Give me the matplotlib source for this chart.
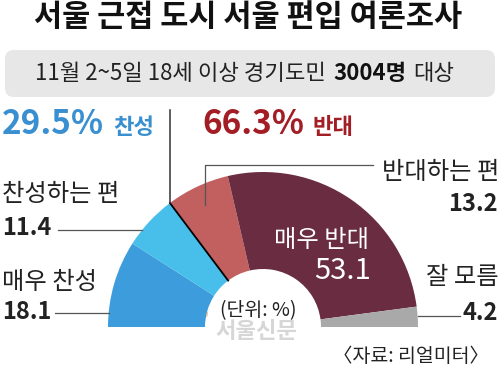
import matplotlib
matplotlib.use("Agg")
import matplotlib.pyplot as plt
from matplotlib.patches import FancyBboxPatch
import numpy as np

plt.rcParams["font.family"] = ["Noto Sans CJK KR", "DejaVu Sans"]

# ── data ────────────────────────────────────────────────────────────────────
categories = ["매우 찬성", "찬성하는 편", "반대하는 편", "매우 반대", "잘 모름"]
values = [18.1, 11.4, 13.2, 53.1, 4.2]
colors = ["#3d9cdb", "#48bfea", "#c1605f", "#6a2c41", "#a9a9a9"]
favor_total = 29.5
oppose_total = 66.3

W, H = 500, 369
def Y(y):  # top-down pixel -> data y
    return H - y

fig = plt.figure(figsize=(W / 100, H / 100), dpi=100)
ax = fig.add_axes([0, 0, 1, 1])
ax.set_xlim(0, W)
ax.set_ylim(0, H)
ax.axis("off")

# ── title / subtitle box ────────────────────────────────────────────────────
ax.text(248, Y(17), "서울 근접 도시 서울 편입 여론조사", ha="center", va="center",
        fontsize=22, fontweight="black", color="#111111")
ax.add_patch(FancyBboxPatch((5, Y(97)), 490, 47, boxstyle="round,pad=0,rounding_size=9",
                            facecolor="#e7e7e7", edgecolor="none"))
ax.text(326, Y(74), "11월 2~5일 18세 이상 경기도민", ha="right", va="center",
        fontsize=16, color="#222222")
ax.text(333, Y(74), "3004명", ha="left", va="center", fontsize=16,
        fontweight="bold", color="#111111")
ax.text(413, Y(74), "대상", ha="left", va="center", fontsize=16, color="#222222")

# ── half donut ──────────────────────────────────────────────────────────────
cx, cy, R, r = 263, Y(327), 155, 58
wedges, _ = ax.pie(values + [sum(values)], radius=R, center=(cx, cy), startangle=180,
                   counterclock=False, colors=colors + ["none"],
                   wedgeprops=dict(width=R - r, linewidth=0))
wedges[-1].set_visible(False)
ax.set_xlim(0, W)
ax.set_ylim(0, H)
ax.set_aspect("equal")

# separator between favour and oppose
ang = np.deg2rad(180 - 180 * favor_total / 100)
ox, oy = cx + R * np.cos(ang), cy + R * np.sin(ang)
ax.plot([cx + r * np.cos(ang), ox], [cy + r * np.sin(ang), oy], color="black", lw=1.3)
ax.plot([ox, ox], [oy, Y(110)], color="#333333", lw=1.1)

# ── leader lines ────────────────────────────────────────────────────────────
def arc_x(y, side):
    dy = cy - Y(y)
    return cx + side * np.sqrt(R ** 2 - dy ** 2)

lc = "#555555"
ax.plot([58, arc_x(230, -1)], [Y(230), Y(230)], color=lc, lw=0.9)
ax.plot([55, arc_x(313, -1)], [Y(313), Y(313)], color=lc, lw=0.9)
ax.plot([arc_x(316, 1), 460], [Y(316), Y(316)], color=lc, lw=0.9)
ax.plot([205, 205, 373], [Y(205), Y(165), Y(165)], color=lc, lw=0.9)

# ── headline totals ─────────────────────────────────────────────────────────
ax.text(2, Y(125), f"{favor_total}%", ha="left", va="center", fontsize=24,
        fontweight="bold", color="#3a8fd0")
ax.text(113, Y(127), "찬성", ha="left", va="center", fontsize=16,
        fontweight="bold", color="#3a8fd0")
ax.text(202, Y(125), f"{oppose_total}%", ha="left", va="center", fontsize=24,
        fontweight="bold", color="#a31d25")
ax.text(313, Y(127), "반대", ha="left", va="center", fontsize=16,
        fontweight="bold", color="#a31d25")

# ── segment labels ──────────────────────────────────────────────────────────
lab = "#222222"
ax.text(2, Y(194), categories[1], ha="left", va="center", fontsize=17.5, color=lab)
ax.text(2, Y(228), f"{values[1]}", ha="left", va="center", fontsize=17,
        fontweight="bold", color=lab)
ax.text(2, Y(282), categories[0], ha="left", va="center", fontsize=17.5, color=lab)
ax.text(2, Y(312), f"{values[0]}", ha="left", va="center", fontsize=17,
        fontweight="bold", color=lab)
ax.text(499, Y(172), categories[2], ha="right", va="center", fontsize=17.5, color=lab)
ax.text(498, Y(204), f"{values[2]}", ha="right", va="center", fontsize=17,
        fontweight="bold", color=lab)
ax.text(499, Y(277), categories[4], ha="right", va="center", fontsize=17.5, color=lab)
ax.text(498, Y(313), f"{values[4]}", ha="right", va="center", fontsize=17,
        fontweight="bold", color=lab)
ax.text(322, Y(240), categories[3], ha="center", va="center", fontsize=17.5, color="white")
ax.text(371, Y(271), f"{values[3]}", ha="right", va="center", fontsize=21, color="white")

ax.text(258, Y(311), "(단위: %)", ha="center", va="center", fontsize=14, color=lab)
ax.text(206, Y(320), "’", ha="center", va="center", fontsize=14,
        fontweight="bold", color="#f2c9a0", zorder=0)
ax.text(256, Y(331), "서울신문", ha="center", va="center", fontsize=16,
        fontweight="bold", color="#d6d6d6", zorder=0)
ax.text(489, Y(357), "〈자료: 리얼미터〉", ha="right", va="center", fontsize=14, color=lab)

fig.savefig("out.png", dpi=100, facecolor="white")
